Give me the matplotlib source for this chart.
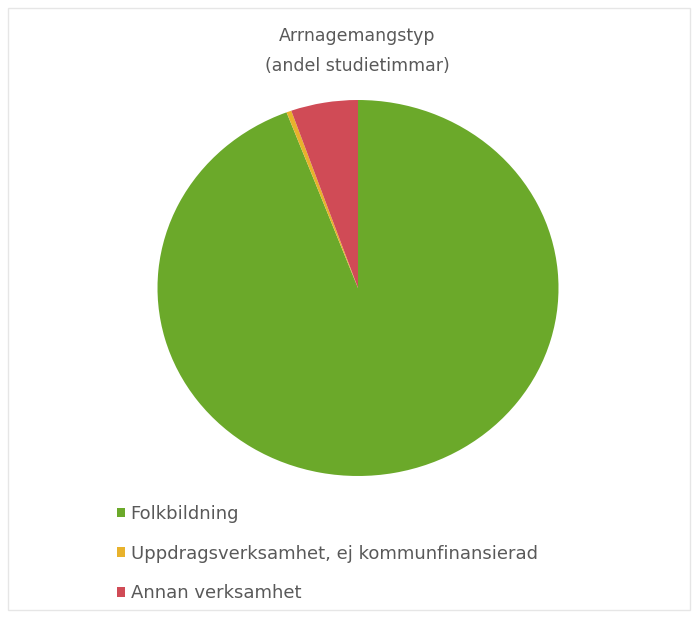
import matplotlib.pyplot as plt
from matplotlib.patches import Rectangle

kategorier = ['Folkbildning', 'Uppdragsverksamhet, ej kommunfinansierad', 'Annan verksamhet']
andelar = [94.2, 0.4, 5.4]
farger = ['#6BA92A', '#E8B22C', '#D04B56']

fig = plt.figure(figsize=(6.97, 6.18), dpi=100)
W, H = 697, 618

# tunn ram runt diagramytan
fig.patches.append(Rectangle((8 / W, 1 - 610 / H), 682 / W, 602 / H,
                             transform=fig.transFigure, fill=False,
                             edgecolor='#E6E6E6', linewidth=1))

ax = fig.add_axes([157.5 / W, 1 - 476 / H, 401 / W, 376 / H])
wedges, _ = ax.pie(andelar, colors=farger, startangle=90, counterclock=False,
                   radius=1, wedgeprops=dict(linewidth=0))
ax.set_aspect('auto')
ax.set_xlim(-1, 1)
ax.set_ylim(-1, 1)

fig.text(357 / W, 1 - 51 / H, 'Arrnagemangstyp\n(andel studietimmar)',
         ha='center', va='center', fontsize=12.5, color='#595959',
         linespacing=1.9)

leg = fig.legend(wedges, kategorier, loc='upper left',
                 bbox_to_anchor=(108 / W, 1 - 496 / H),
                 frameon=False, fontsize=13, labelcolor='#595959',
                 handlelength=0.45, handleheight=0.45, handletextpad=0.3,
                 labelspacing=1.2, borderpad=0)

fig.savefig('out.png', dpi=100)
